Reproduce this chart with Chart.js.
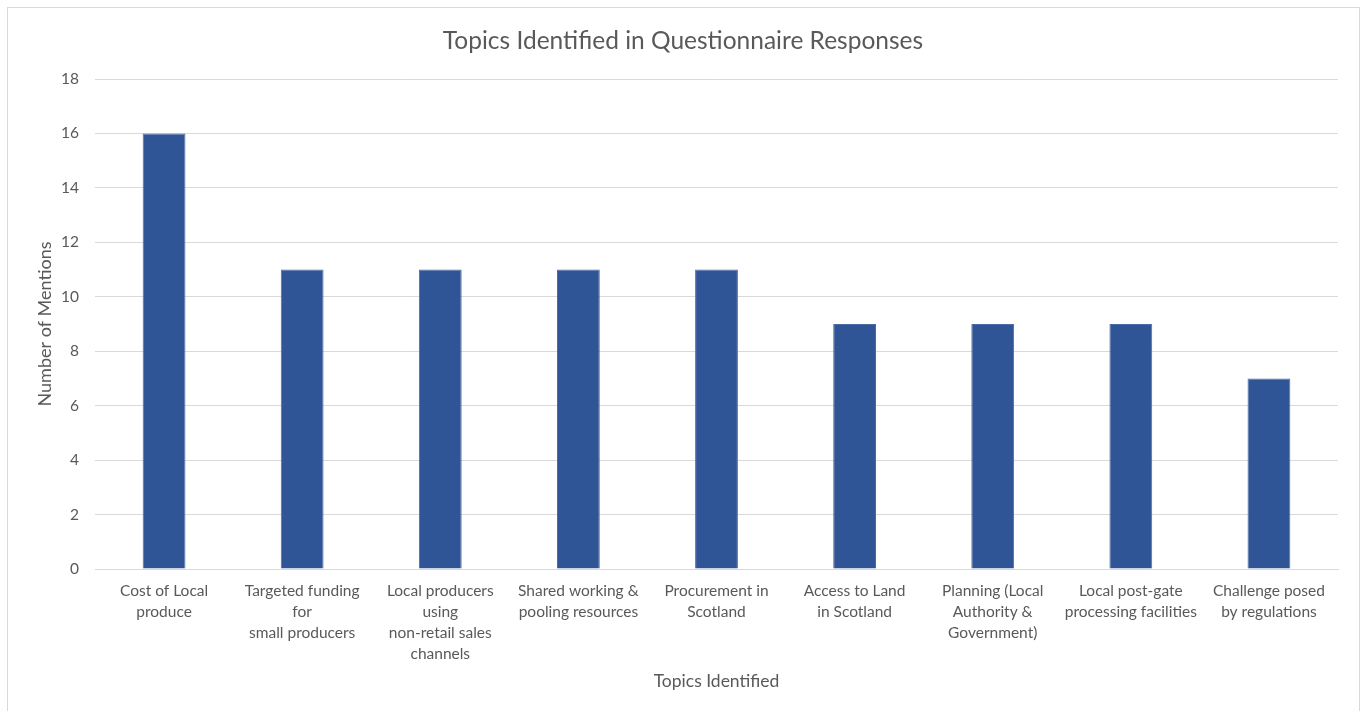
<!DOCTYPE html>
<html>
<head>
<meta charset="utf-8">
<script src="https://cdn.jsdelivr.net/npm/chart.js@4"></script>
<style>
  body { margin: 0; background: #fff; }
  #frame { position: absolute; left: 7px; top: 7px; width: 1351px; height: 720px; border: 1px solid #d9d9d9; }
  #wrap { position: absolute; left: 28px; top: 0; width: 1337px; height: 711px; }
</style>
</head>
<body>
<div id="frame"></div>
<div id="wrap"><canvas id="topicsChart"></canvas></div>
<script>
  const topics = [
    ['Cost of Local', 'produce'],
    ['Targeted funding', 'for', 'small producers'],
    ['Local producers', 'using', 'non-retail sales', 'channels'],
    ['Shared working &', 'pooling resources'],
    ['Procurement in', 'Scotland'],
    ['Access to Land', 'in Scotland'],
    ['Planning (Local', 'Authority &', 'Government)'],
    ['Local post-gate', 'processing facilities'],
    ['Challenge posed', 'by regulations']
  ];
  const mentions = [16, 11, 11, 11, 11, 9, 9, 9, 7];

  const textGrey = '#595959';
  const font = 'Lato, "Open Sans", sans-serif';

  const ctx = document.getElementById('topicsChart').getContext('2d');
  new Chart(ctx, {
    type: 'bar',
    data: {
      labels: topics,
      datasets: [{
        label: 'Number of Mentions',
        data: mentions,
        backgroundColor: '#2f5597',
        borderColor: '#4a6ca8',
        borderWidth: 1,
        categoryPercentage: 1,
        barPercentage: 0.31
      }]
    },
    options: {
      responsive: true,
      maintainAspectRatio: false,
      animation: false,
      layout: { padding: { left: 0, right: 27, top: 0, bottom: 0 } },
      plugins: {
        legend: { display: false },
        tooltip: { enabled: false },
        title: {
          display: true,
          text: 'Topics Identified in Questionnaire Responses',
          color: textGrey,
          font: { family: font, size: 24.5, weight: 'normal' },
          padding: { top: 26, bottom: 23.6 }
        }
      },
      scales: {
        x: {
          grid: { display: false, drawTicks: false },
          border: { display: true, color: '#d9d9d9', width: 1 },
          ticks: {
            color: textGrey,
            font: { family: font, size: 15.5, lineHeight: 1.35 },
            padding: 12,
            maxRotation: 0,
            autoSkip: false
          },
          title: {
            display: true,
            text: 'Topics Identified',
            color: textGrey,
            font: { family: font, size: 17.5 },
            padding: { top: 0, bottom: 19 }
          },
          afterFit: (scale) => { scale.height = 142; }
        },
        y: {
          min: 0,
          max: 18,
          ticks: {
            stepSize: 2,
            color: textGrey,
            font: { family: font, size: 15.5 },
            padding: 16
          },
          grid: { color: '#d9d9d9', drawTicks: false },
          border: { display: false },
          title: {
            display: true,
            text: 'Number of Mentions',
            color: textGrey,
            font: { family: font, size: 18 },
            padding: { top: 6, bottom: 0 }
          },
          afterFit: (scale) => { scale.width = 67; }
        }
      }
    }
  });
</script>
</body>
</html>
